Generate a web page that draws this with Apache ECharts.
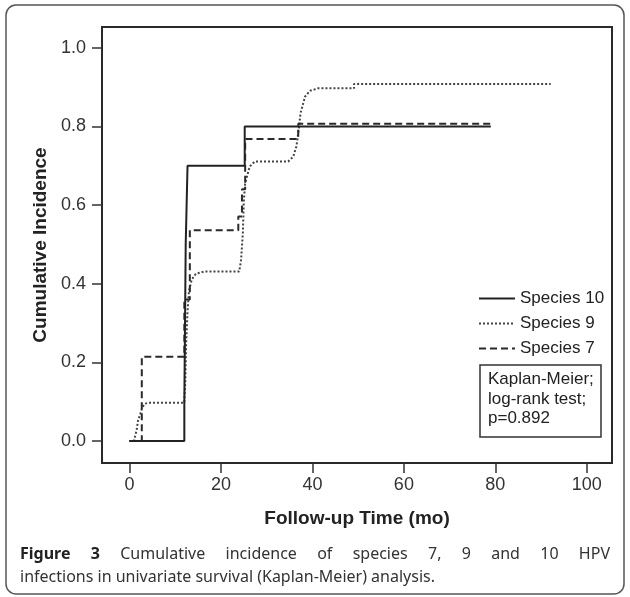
<!DOCTYPE html>
<html>
<head>
<meta charset="utf-8">
<script src="https://cdn.jsdelivr.net/npm/echarts@6/dist/echarts.min.js"></script>
<style>
  html, body { margin: 0; padding: 0; background: #fff; }
  #chart { width: 630px; height: 597px; }
</style>
</head>
<body>
<div id="chart"></div>
<script>
// tick labels
const xTicks = [0, 20, 40, 60, 80, 100]
const yTicks = [0, 0.2, 0.4, 0.6, 0.8, 1.0]
const seriesNames = ['Species 10', 'Species 9', 'Species 7']

// Species 10 (solid), Kaplan-Meier steps
const sp10Time = [0, 12.0, 12.3, 12.5, 12.7, 25.2, 79]
const sp10Inc = [0, 0.1, 0.5, 0.6, 0.7, 0.8, 0.8]

// Species 7 (dashed)
const sp7Time = [0, 2.7, 12.0, 13.2, 23.8, 24.6, 25.3, 36.9, 79]
const sp7Inc = [0, 0.214, 0.36, 0.536, 0.571, 0.64, 0.768, 0.807, 0.807]

// Species 9 (dotted)
const sp9Time = [0, 1.0, 1.6, 1.9, 2.4, 2.8, 3.4, 4.1, 12.0, 12.2, 12.4, 12.7, 13.0, 13.6, 14.5, 16.3,
  24.0, 24.4, 24.8, 25.0, 25.3, 26.3, 27.4, 34.7, 35.8, 36.5, 37.0, 37.4, 38.4, 39.5, 41.3, 49.1, 49.1, 92.1]
const sp9Inc = [0, 0, 0.03, 0.053, 0.07, 0.085, 0.095, 0.097, 0.097, 0.15, 0.25, 0.33, 0.38, 0.41, 0.425, 0.431,
  0.431, 0.46, 0.53, 0.61, 0.656, 0.698, 0.711, 0.711, 0.723, 0.749, 0.791, 0.834, 0.876, 0.891, 0.897, 0.897, 0.908, 0.908]

const captionLine1 = ['Figure', '3', 'Cumulative', 'incidence', 'of', 'species', '7,', '9', 'and', '10', 'HPV']
const captionLine2 = 'infections in univariate survival (Kaplan-Meier) analysis.'

const pairs = (xs, ys) => xs.map((x, i) => [x, ys[i]])
const FONT = '"Liberation Sans", Arial, sans-serif'
const CAP_FONT = '"Noto Sans", sans-serif'

// justify first caption line between two x positions
function captionGraphics () {
  const ctx = document.createElement('canvas').getContext('2d')
  const size = 16
  const boldFont = 'bold ' + size + 'px ' + CAP_FONT
  const normFont = size + 'px ' + CAP_FONT
  const widths = captionLine1.map((w, i) => {
    ctx.font = i < 2 ? boldFont : normFont
    return ctx.measureText(w).width
  })
  const x0 = 20
  const x1 = 610
  const total = widths.reduce((a, b) => a + b, 0)
  const gap = (x1 - x0 - total) / (captionLine1.length - 1)
  const els = []
  let x = x0
  captionLine1.forEach((w, i) => {
    els.push({
      type: 'text', left: x, top: 546,
      style: { text: w, font: i < 2 ? boldFont : normFont, fill: i < 2 ? '#222' : '#333' }
    })
    x += widths[i] + gap
  })
  els.push({
    type: 'text', left: x0, top: 569,
    style: { text: captionLine2, font: normFont, fill: '#333' }
  })
  return els
}

let chart = echarts.init(document.getElementById('chart'), null, { renderer: 'canvas' })

let option = {
  backgroundColor: '#fff',
  animation: false,
  grid: {
    left: 102, top: 27, right: 18, bottom: 134,
    show: true, borderColor: '#2a2a2a', borderWidth: 2, containLabel: false
  },
  legend: {
    data: seriesNames,
    orient: 'vertical',
    left: 473, top: 285,
    itemWidth: 36, itemHeight: 14, itemGap: 8,
    itemStyle: { opacity: 0 },
    textStyle: { fontFamily: FONT, fontSize: 17, color: '#222' }
  },
  xAxis: {
    type: 'value',
    min: -6, max: 105.5,
    name: 'Follow-up Time (mo)',
    nameLocation: 'middle', nameGap: 46,
    nameTextStyle: { fontFamily: FONT, fontSize: 19, fontWeight: 'bold', color: '#222' },
    splitLine: { show: false },
    axisLine: { show: false, onZero: false },
    axisTick: { customValues: xTicks, length: 10, lineStyle: { color: '#333', width: 1.5 } },
    axisLabel: { customValues: xTicks, margin: 13, fontFamily: FONT, fontSize: 18, color: '#333' }
  },
  yAxis: {
    type: 'value',
    min: -0.056, max: 1.053,
    name: 'Cumulative Incidence',
    nameLocation: 'middle', nameGap: 52,
    nameTextStyle: { fontFamily: FONT, fontSize: 19, fontWeight: 'bold', color: '#222' },
    splitLine: { show: false },
    axisLine: { show: false, onZero: false },
    axisTick: { customValues: yTicks, length: 10, lineStyle: { color: '#333', width: 1.5 } },
    axisLabel: {
      customValues: yTicks, margin: 16, fontFamily: FONT, fontSize: 18, color: '#333',
      formatter: v => v.toFixed(1)
    }
  },
  series: [
    {
      name: 'Species 9', type: 'line', data: pairs(sp9Time, sp9Inc),
      symbol: 'none', z: 2,
      lineStyle: { color: '#444', width: 2, type: [2, 2] }, itemStyle: { color: '#444' }
    },
    {
      name: 'Species 7', type: 'line', step: 'end', data: pairs(sp7Time, sp7Inc),
      symbol: 'none', z: 3,
      lineStyle: { color: '#2a2a2a', width: 2, type: [7, 4] }, itemStyle: { color: '#2a2a2a' }
    },
    {
      name: 'Species 10', type: 'line', step: 'end', data: pairs(sp10Time, sp10Inc),
      symbol: 'none', z: 4,
      lineStyle: { color: '#222', width: 2 }, itemStyle: { color: '#222' }
    }
  ],
  graphic: [
    {
      type: 'rect', shape: { x: 6, y: 5, width: 618, height: 589, r: 10 },
      style: { fill: 'none', stroke: '#555', lineWidth: 1.5 }, z: 0
    },
    {
      type: 'rect', shape: { x: 480, y: 365, width: 121, height: 72 },
      style: { fill: '#fff', stroke: '#333', lineWidth: 1.5 }, z: 10
    },
    {
      type: 'text', left: 488, top: 370, z: 11,
      style: { text: 'Kaplan-Meier;\nlog-rank test;\np=0.892', font: '17px ' + FONT, fill: '#222', lineHeight: 19.5 }
    }
  ].concat(captionGraphics())
}

chart.setOption(option)
window.addEventListener('resize', function () {
  chart.resize()
})
</script>
</body>
</html>
